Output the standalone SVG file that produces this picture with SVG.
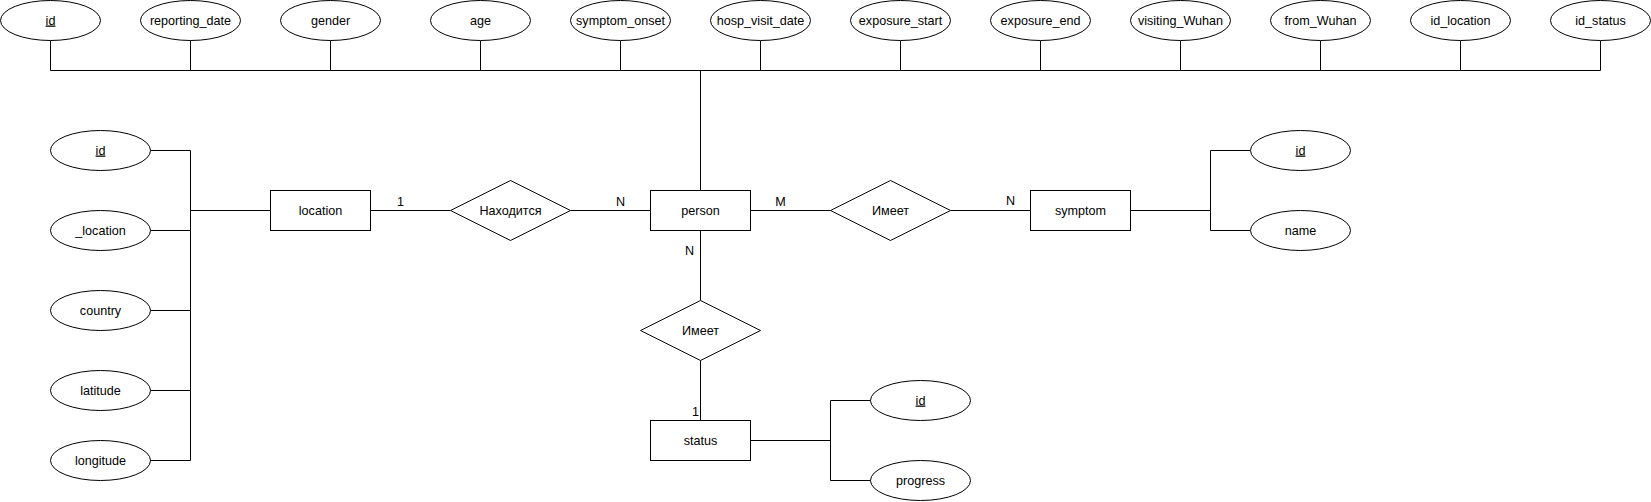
<svg xmlns="http://www.w3.org/2000/svg" width="1651" height="502" viewBox="0 0 1651 502">
<style>
.s{fill:#fff;stroke:#000;stroke-width:1}
.e{fill:none;stroke:#000;stroke-width:1}
text{font-family:"Liberation Sans",Arial,Helvetica,sans-serif;font-size:12.6px;fill:#000;text-anchor:middle}
.u{text-decoration:underline}
</style>
<rect width="1651" height="502" fill="#fff"/>
<g id="connectors">
<path class="e" d="M50.5 40.5V70.5H1600.5V40.5"/>
<path class="e" d="M190.5 40.5V70.5M330.5 40.5V70.5M480.5 40.5V70.5M620.5 40.5V70.5M760.5 40.5V70.5M900.5 40.5V70.5M1040.5 40.5V70.5M1180.5 40.5V70.5M1320.5 40.5V70.5M1460.5 40.5V70.5"/>
<path class="e" d="M700.5 70.5V190.5"/>
<path class="e" d="M150.5 150.5H190.5V460.5H150.5M150.5 230.5H190.5M150.5 310.5H190.5M150.5 390.5H190.5M190.5 210.5H270.5"/>
<path class="e" d="M370.5 210.5H450.5"/>
<path class="e" d="M570.5 210.5H650.5"/>
<path class="e" d="M750.5 210.5H830.5"/>
<path class="e" d="M950.5 210.5H1030.5"/>
<path class="e" d="M1130.5 210.5H1210.5M1250.5 150.5H1210.5V230.5H1250.5"/>
<path class="e" d="M700.5 230.5V300.5"/>
<path class="e" d="M700.5 360.5V420.5"/>
<path class="e" d="M750.5 440.5H830.5M870.5 400.5H830.5V480.5H870.5"/>
<text x="400.5" y="206">1</text>
<text x="620.5" y="206">N</text>
<text x="780.5" y="206">M</text>
<text x="1010.5" y="205">N</text>
<text x="689.5" y="255">N</text>
<text x="695.5" y="416">1</text>
</g>
<g id="attr-person-id"><ellipse class="s" cx="50.5" cy="20.5" rx="50" ry="20"/><text class="u" x="50.5" y="24.5">id</text></g>
<g id="attr-reporting_date"><ellipse class="s" cx="190.5" cy="20.5" rx="50" ry="20"/><text x="190.5" y="24.5">reporting_date</text></g>
<g id="attr-gender"><ellipse class="s" cx="330.5" cy="20.5" rx="50" ry="20"/><text x="330.5" y="24.5">gender</text></g>
<g id="attr-age"><ellipse class="s" cx="480.5" cy="20.5" rx="50" ry="20"/><text x="480.5" y="24.5">age</text></g>
<g id="attr-symptom_onset"><ellipse class="s" cx="620.5" cy="20.5" rx="50" ry="20"/><text x="620.5" y="24.5">symptom_onset</text></g>
<g id="attr-hosp_visit_date"><ellipse class="s" cx="760.5" cy="20.5" rx="50" ry="20"/><text x="760.5" y="24.5">hosp_visit_date</text></g>
<g id="attr-exposure_start"><ellipse class="s" cx="900.5" cy="20.5" rx="50" ry="20"/><text x="900.5" y="24.5">exposure_start</text></g>
<g id="attr-exposure_end"><ellipse class="s" cx="1040.5" cy="20.5" rx="50" ry="20"/><text x="1040.5" y="24.5">exposure_end</text></g>
<g id="attr-visiting_Wuhan"><ellipse class="s" cx="1180.5" cy="20.5" rx="50" ry="20"/><text x="1180.5" y="24.5">visiting_Wuhan</text></g>
<g id="attr-from_Wuhan"><ellipse class="s" cx="1320.5" cy="20.5" rx="50" ry="20"/><text x="1320.5" y="24.5">from_Wuhan</text></g>
<g id="attr-id_location"><ellipse class="s" cx="1460.5" cy="20.5" rx="50" ry="20"/><text x="1460.5" y="24.5">id_location</text></g>
<g id="attr-id_status"><ellipse class="s" cx="1600.5" cy="20.5" rx="50" ry="20"/><text x="1600.5" y="24.5">id_status</text></g>
<g id="attr-location-id"><ellipse class="s" cx="100.5" cy="150.5" rx="50" ry="20"/><text class="u" x="100.5" y="154.5">id</text></g>
<g id="attr-_location"><ellipse class="s" cx="100.5" cy="230.5" rx="50" ry="20"/><text x="100.5" y="234.5">_location</text></g>
<g id="attr-country"><ellipse class="s" cx="100.5" cy="310.5" rx="50" ry="20"/><text x="100.5" y="314.5">country</text></g>
<g id="attr-latitude"><ellipse class="s" cx="100.5" cy="390.5" rx="50" ry="20"/><text x="100.5" y="394.5">latitude</text></g>
<g id="attr-longitude"><ellipse class="s" cx="100.5" cy="460.5" rx="50" ry="20"/><text x="100.5" y="464.5">longitude</text></g>
<g id="location"><rect class="s" x="270.5" y="190.5" width="100" height="40"/><text x="320.5" y="214.5">location</text></g>
<g id="rel-located"><polygon class="s" points="450.5,210.5 510.5,180.5 570.5,210.5 510.5,240.5"/><text x="510.5" y="214.5">Находится</text></g>
<g id="person"><rect class="s" x="650.5" y="190.5" width="100" height="40"/><text x="700.5" y="214.5">person</text></g>
<g id="rel-has-symptom"><polygon class="s" points="830.5,210.5 890.5,180.5 950.5,210.5 890.5,240.5"/><text x="890.5" y="214.5">Имеет</text></g>
<g id="symptom"><rect class="s" x="1030.5" y="190.5" width="100" height="40"/><text x="1080.5" y="214.5">symptom</text></g>
<g id="attr-symptom-id"><ellipse class="s" cx="1300.5" cy="150.5" rx="50" ry="20"/><text class="u" x="1300.5" y="154.5">id</text></g>
<g id="attr-name"><ellipse class="s" cx="1300.5" cy="230.5" rx="50" ry="20"/><text x="1300.5" y="234.5">name</text></g>
<g id="rel-has-status"><polygon class="s" points="640.5,330.5 700.5,300.5 760.5,330.5 700.5,360.5"/><text x="700.5" y="334.5">Имеет</text></g>
<g id="status"><rect class="s" x="650.5" y="420.5" width="100" height="40"/><text x="700.5" y="444.5">status</text></g>
<g id="attr-status-id"><ellipse class="s" cx="920.5" cy="400.5" rx="50" ry="20"/><text class="u" x="920.5" y="404.5">id</text></g>
<g id="attr-progress"><ellipse class="s" cx="920.5" cy="480.5" rx="50" ry="20"/><text x="920.5" y="484.5">progress</text></g>
</svg>
